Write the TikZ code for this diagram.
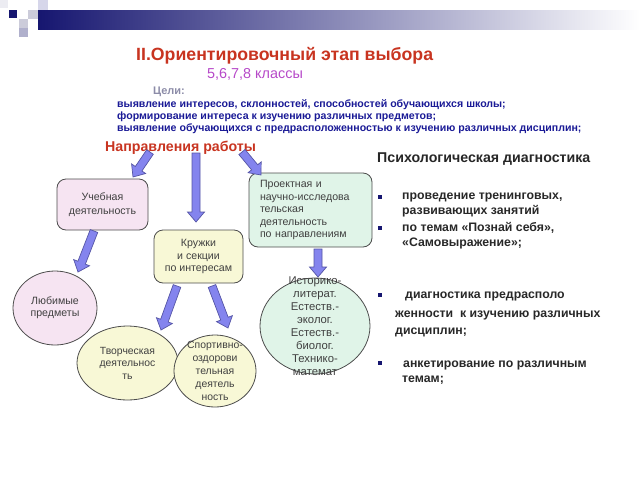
\documentclass[tikz,border=0pt]{standalone}
\usepackage{fontspec}
\setmainfont{Liberation Sans}
\usetikzlibrary{shapes.geometric,calc}

\newlength{\du}
\setlength{\du}{1pt}

\definecolor{barnavy}{RGB}{22,22,112}
\definecolor{sqlight}{RGB}{236,236,242}
\definecolor{sqgray}{RGB}{204,204,218}
\definecolor{sqlav}{RGB}{214,214,234}
\definecolor{sqmid}{RGB}{176,176,204}
\definecolor{titlered}{RGB}{200,52,32}
\definecolor{gradepurple}{RGB}{182,72,200}
\definecolor{goalgray}{RGB}{140,140,168}
\definecolor{goalblue}{RGB}{26,26,150}
\definecolor{itemtext}{RGB}{40,40,40}
\definecolor{boxtext}{RGB}{64,64,64}
\definecolor{pinkfill}{RGB}{246,228,242}
\definecolor{yellowfill}{RGB}{248,248,214}
\definecolor{greenfill}{RGB}{224,244,232}
\definecolor{arrowfill}{RGB}{132,132,238}
\definecolor{arrowline}{RGB}{85,85,165}

\tikzset{
  roundbox/.style={draw=black!70, line width=0.8\du, rounded corners=9\du,
    align=center, text=boxtext, inner sep=0pt},
  oval/.style={ellipse, draw=black!70, line width=0.8\du, inner sep=0pt},
  ovaltext/.style={align=center, text=boxtext, inner sep=0pt},
  blockarr/.style={fill=arrowfill, draw=arrowline, line width=0.7\du, line join=miter},
  itemsq/.style={fill=barnavy, minimum width=4\du, minimum height=4.5\du, inner sep=0pt},
  itemline/.style={anchor=base west, inner sep=0pt, text=itemtext,
    font=\fontsize{12.3}{14}\selectfont\bfseries},
  goalline/.style={anchor=base west, inner sep=0pt, text=goalblue,
    font=\fontsize{10.6}{12}\selectfont\bfseries}
}

% fat arrow from #1 to #2
\newcommand{\blockarrow}[2]{%
  \coordinate (ah) at ($(#2)!10\du!(#1)$);
  \filldraw[blockarr] ($(#1)!4\du!90:(#2)$) -- ($(ah)!4\du!90:(#2)$)
    -- ($(ah)!8.5\du!90:(#2)$) -- (#2) -- ($(ah)!8.5\du!-90:(#2)$)
    -- ($(ah)!4\du!-90:(#2)$) -- ($(#1)!4\du!-90:(#2)$) -- cycle;}

\begin{document}
\begin{tikzpicture}
\pgftransformyscale{-1.000000}
\useasboundingbox (0,0) rectangle (640\du,480\du);
% header bar
\shade[left color=barnavy, right color=white] (38\du,10\du) rectangle (640\du,29\du);
\fill[sqlight] (0,0) rectangle (8\du,8\du);
\fill[barnavy] (9\du,10\du) rectangle (17\du,18\du);
\fill[sqgray] (28\du,10\du) rectangle (38\du,19\du);
\fill[sqlav] (38\du,0) rectangle (48\du,10\du);
\fill[sqgray] (19\du,19\du) rectangle (28\du,28\du);
\fill[sqmid] (19\du,28\du) rectangle (28\du,37\du);
% setfont left to latex
\node[anchor=base west, inner sep=0pt, text=titlered, font=\fontsize{17.7}{20}\selectfont\bfseries]
  (title) at (136\du,60\du) {II.Ориентировочный этап выбора};
\node[anchor=base west, inner sep=0pt, text=gradepurple, font=\fontsize{14.4}{16}\selectfont]
  (grades) at (207\du,78\du) {5,6,7,8 классы};
\node[anchor=base west, inner sep=0pt, text=goalgray, font=\fontsize{11}{13}\selectfont\bfseries]
  (goals) at (153\du,94\du) {Цели:};
\node[goalline] (goal1) at (117\du,107.5\du) {выявление интересов, склонностей, способностей обучающихся школы;};
\node[goalline] (goal2) at (117\du,119.5\du) {формирование интереса к изучению различных предметов;};
\node[goalline] (goal3) at (117\du,131.5\du) {выявление обучающихся с предрасположенностью к изучению различных дисциплин;};
\node[anchor=base west, inner sep=0pt, text=titlered, font=\fontsize{14.2}{16}\selectfont\bfseries]
  (ways) at (105\du,151\du) {Направления работы};
% boxes
\node[roundbox, fill=pinkfill, minimum width=91\du, minimum height=51\du,
  font=\fontsize{10.6}{14}\selectfont] (ucheb) at (102.5\du,204.5\du) {Учебная\\деятельность};
\node[roundbox, fill=yellowfill, minimum width=89\du, minimum height=53\du,
  font=\fontsize{10.6}{12.5}\selectfont] (kruzh) at (198.5\du,256.5\du) {Кружки\\и секции\\по интересам};
\node[roundbox, fill=greenfill, minimum width=123\du, minimum height=74\du, align=left,
  text width=101\du, font=\fontsize{10.6}{12.5}\selectfont] (proekt) at (310.5\du,210\du)
  {Проектная и\\научно-исследова\\тельская\\деятельность\\по направлениям};
% ovals
\node[oval, fill=pinkfill, minimum width=84\du, minimum height=74\du,
  label={[ovaltext, font=\fontsize{10.6}{12}\selectfont]center:{Любимые\\предметы}}]
  (lyub) at (55\du,308\du) {};
\node[oval, fill=yellowfill, minimum width=101\du, minimum height=74\du,
  label={[ovaltext, font=\fontsize{10.4}{12.5}\selectfont]center:{Творческая\\деятельнос\\ть}}]
  (tvor) at (127.5\du,363\du) {};
\node[oval, fill=yellowfill, minimum width=82\du, minimum height=72\du,
  label={[ovaltext, font=\fontsize{10.4}{13}\selectfont]center:{Спортивно-\\оздорови\\тельная\\деятель\\ность}}]
  (sport) at (215\du,371\du) {};
\node[oval, fill=greenfill, minimum width=110\du, minimum height=96\du,
  label={[ovaltext, font=\fontsize{11.3}{13}\selectfont]center:{Историко-\\литерат.\\Естеств.-\\эколог.\\Естеств.-\\биолог.\\Технико-\\математ}}]
  (istor) at (315\du,326\du) {};
% arrow ends
\coordinate (w1) at (150\du,152\du);
\coordinate (w2) at (196\du,153\du);
\coordinate (w3) at (242\du,152\du);
\coordinate (t1) at (133\du,177\du);
\coordinate (t2) at (196\du,222\du);
\coordinate (t3) at (261\du,175\du);
\coordinate (u1) at (94\du,231\du);
\coordinate (t4) at (78\du,272\du);
\coordinate (k1) at (177\du,286\du);
\coordinate (t5) at (161\du,330\du);
\coordinate (k2) at (212\du,286\du);
\coordinate (t6) at (228\du,328\du);
\coordinate (p1) at (318\du,249\du);
\coordinate (t7) at (318\du,277\du);
\blockarrow{w1}{t1}
\blockarrow{w2}{t2}
\blockarrow{w3}{t3}
\blockarrow{u1}{t4}
\blockarrow{k1}{t5}
\blockarrow{k2}{t6}
\blockarrow{p1}{t7}
% psychological diagnostics
\node[anchor=base west, inner sep=0pt, text=black!85, font=\fontsize{14.2}{16}\selectfont\bfseries]
  (psy) at (377\du,162\du) {Психологическая диагностика};
\node[itemsq] (b1) at (379.5\du,197\du) {};
\node[itemsq] (b2) at (379.5\du,228\du) {};
\node[itemsq] (b3) at (379.5\du,295\du) {};
\node[itemsq] (b4) at (379.5\du,363\du) {};
\node[itemline] (i1a) at (402\du,199\du) {проведение тренинговых,};
\node[itemline] (i1b) at (402\du,214\du) {развивающих занятий};
\node[itemline] (i2a) at (402\du,231\du) {по темам «Познай себя»,};
\node[itemline] (i2b) at (402\du,246\du) {«Самовыражение»;};
\node[itemline] (i3a) at (405\du,298\du) {диагностика предрасполо};
\node[itemline] (i3b) at (395\du,317\du) {женности~ к изучению различных};
\node[itemline] (i3c) at (395\du,334\du) {дисциплин;};
\node[itemline] (i4a) at (403\du,367\du) {анкетирование по различным};
\node[itemline] (i4b) at (402\du,382\du) {темам;};
\end{tikzpicture}
\end{document}
